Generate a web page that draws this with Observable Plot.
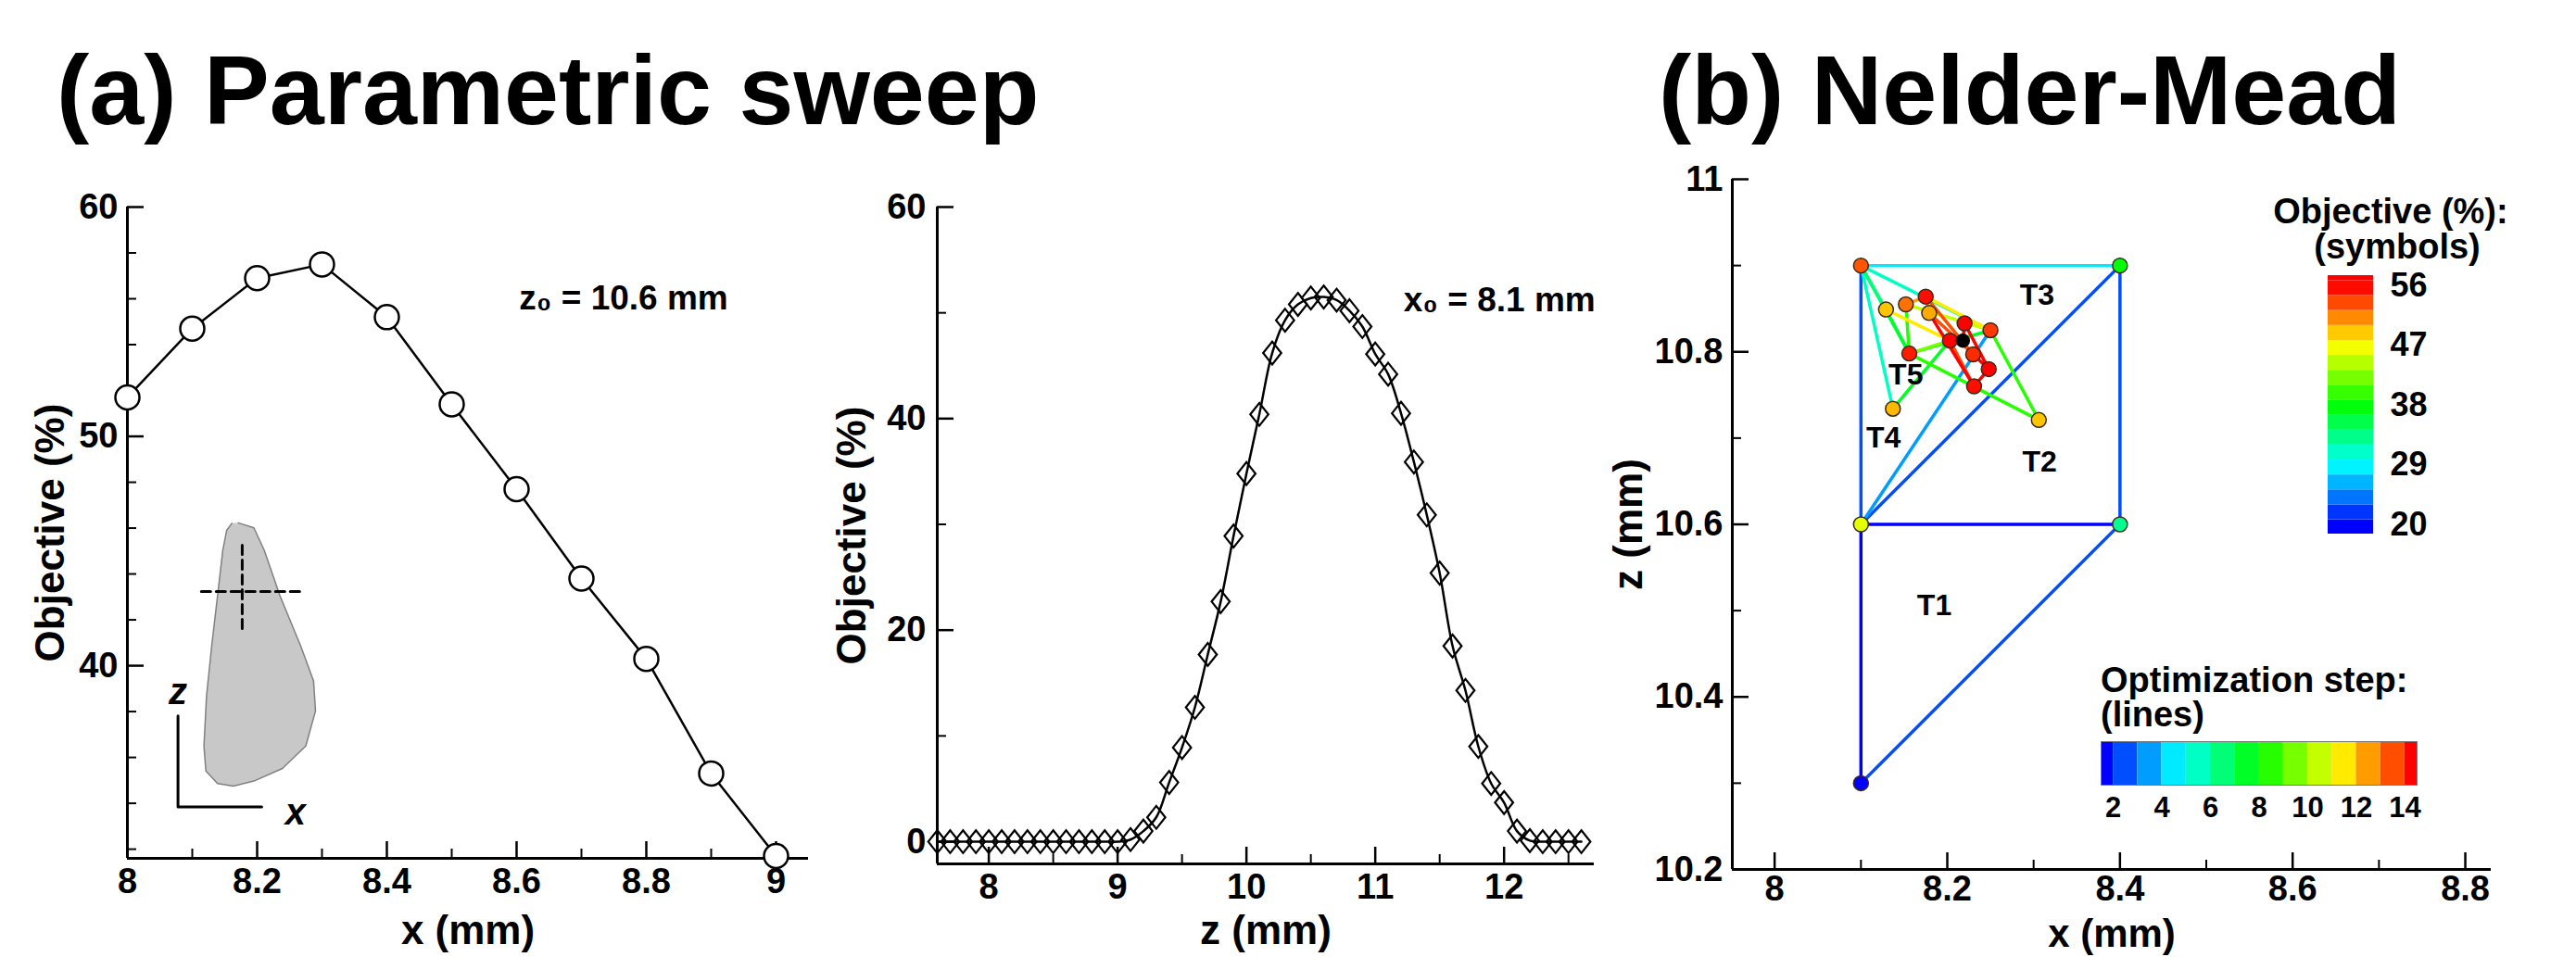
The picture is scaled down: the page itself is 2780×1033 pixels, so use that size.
<!DOCTYPE html>
<html><head><meta charset="utf-8">
<script src="https://cdn.jsdelivr.net/npm/d3@7"></script>
<script src="https://cdn.jsdelivr.net/npm/@observablehq/plot@0.6"></script>
<style>
html,body{margin:0;padding:0;background:#fff;}
#root{position:relative;width:2780px;height:1033px;overflow:hidden;background:#fff;font-family:"Liberation Sans",Arial,Helvetica,sans-serif;}
.abs{position:absolute;}
.abs svg{max-width:none;}
</style></head><body><div id="root"></div>
<script>
// ---------------- DATA ----------------
// (a) left: sweep in x at z0 = 10.6 mm
const sweepX = [8.0, 8.1, 8.2, 8.3, 8.4, 8.5, 8.6, 8.7, 8.8, 8.9, 9.0];
const sweepXObjective = [51.7, 54.7, 56.9, 57.5, 55.2, 51.4, 47.7, 43.8, 40.3, 35.3, 31.7];
// (a) right: sweep in z at x0 = 8.1 mm
const sweepZ = [7.6, 7.7, 7.8, 7.9, 8.0, 8.1, 8.2, 8.3, 8.4, 8.5, 8.6, 8.7, 8.8, 8.9, 9.0,
  9.1, 9.2, 9.3, 9.4, 9.5, 9.6, 9.7, 9.8, 9.9, 10.0, 10.1, 10.2, 10.3, 10.4, 10.5, 10.6, 10.7, 10.8, 10.9,
  11.0, 11.1, 11.2, 11.3, 11.4, 11.5, 11.6, 11.7, 11.8, 11.9, 12.0, 12.1, 12.2, 12.3, 12.4, 12.5, 12.6];
const sweepZObjective = [0, 0, 0, 0, 0, 0, 0, 0, 0, 0, 0, 0, 0, 0, 0,
  0.2, 1.0, 2.3, 5.6, 8.9, 12.7, 17.7, 22.7, 28.9, 34.8, 40.4, 46.2, 49.3, 50.8, 51.4, 51.5, 51.2, 50.2, 48.7,
  46.1, 44.2, 40.5, 35.9, 30.9, 25.4, 18.5, 14.3, 9.0, 5.5, 3.7, 1.0, 0.1, 0, 0, 0, 0];

// inset sketch (in left-panel data coordinates)
const insetOutlineX = [8.171, 8.195, 8.211, 8.235, 8.267, 8.287, 8.290, 8.275, 8.239, 8.195, 8.163, 8.139, 8.121, 8.118, 8.122, 8.130, 8.139, 8.147, 8.153, 8.161];
const insetOutlineY = [46.23, 46.01, 45.03, 43.06, 40.87, 39.34, 38.03, 36.50, 35.52, 34.97, 34.75, 34.86, 35.41, 36.50, 38.69, 40.87, 43.06, 45.03, 45.90, 46.21];
const insetCrossVX = [8.177, 8.177], insetCrossVY = [45.25, 41.53];
const insetCrossHX = [8.114, 8.267], insetCrossHY = [43.23, 43.23];
const insetAxesX = [8.078, 8.078, 8.207], insetAxesY = [37.81, 33.84, 33.84];
const insetAxisLabels = ["z", "x"], insetAxisLabelX = [8.078, 8.259], insetAxisLabelY = [38.85, 33.6];

// (b) Nelder-Mead
const nmName = ["A", "B", "C", "D", "E", "F", "G", "H", "I", "J", "K", "L", "M", "N", "P", "Q", "R", "S"];
const nmX = [8.1, 8.1, 8.4, 8.4, 8.1, 8.250, 8.129, 8.137, 8.156, 8.203, 8.152, 8.175, 8.306, 8.179, 8.220, 8.230, 8.248, 8.231];
const nmZ = [10.3, 10.6, 10.6, 10.9, 10.9, 10.825, 10.849, 10.734, 10.798, 10.813, 10.855, 10.864, 10.721, 10.845, 10.833, 10.797, 10.780, 10.760];
const nmObjective = [20, 46, 33, 38, 53, 54, 49, 49.5, 55, 56, 52, 55.5, 49, 50, 56, 54.5, 56, 55.5];
const optimumName = ["O"], optimumX = [8.218], optimumZ = [10.813];
const edgeFrom = ["A","B","A","C","B","B","B","D","E","E","E","E","G","H","I","I","F","K","I","K","G","L","K","L","N","J","L","N","P","Q","S","P","J"];
const edgeTo   = ["B","C","C","D","D","E","F","E","F","H","G","I","I","J","F","M","M","I","J","F","J","F","L","N","Q","S","Q","S","R","R","R","O","O"];
const edgeStep = [1, 1, 2, 2, 2, 2, 3, 4, 5, 5, 6, 6, 7, 7, 7, 8, 8, 8, 9, 10, 11, 11, 12, 12, 13, 13, 13, 14, 14, 14, 14, 14, 14];
const triLabels = ["T1", "T2", "T3", "T4", "T5"];
const triLabelX = [8.185, 8.307, 8.304, 8.126, 8.152];
const triLabelZ = [10.506, 10.672, 10.866, 10.700, 10.773];

// legends
const objectiveLegendTicks = [20, 29, 38, 47, 56];
const objectiveLegendEdges = [18.6, 20.75, 23, 25.25, 27.5, 29.75, 32, 34.25, 36.5, 38.75, 41, 43.25, 45.5, 47.75, 50, 52.25, 54.5, 56.75, 57.5];
const stepLegendSteps = [1, 2, 3, 4, 5, 6, 7, 8, 9, 10, 11, 12, 13, 14];
const stepLegendTicks = [2, 4, 6, 8, 10, 12, 14];

// axis ticks
const p1XMajor = [8, 8.2, 8.4, 8.6, 8.8, 9], p1XMinor = [8.1, 8.3, 8.5, 8.7, 8.9];
const p1YMajor = [40, 50, 60], p1YMinor = [32, 34, 36, 38, 42, 44, 46, 48, 52, 54, 56, 58];
const p2XMajor = [8, 9, 10, 11, 12], p2XMinor = [8.5, 9.5, 10.5, 11.5, 12.5];
const p2YMajor = [0, 20, 40, 60], p2YMinor = [10, 30, 50];
const p3XMajor = [8, 8.2, 8.4, 8.6, 8.8], p3XMinor = [8.1, 8.3, 8.5, 8.7];
const p3YMajor = [10.2, 10.4, 10.6, 10.8, 11], p3YMinor = [10.3, 10.5, 10.7, 10.9];

// ---------------- HELPERS ----------------
const FONT = '"Liberation Sans", Arial, Helvetica, sans-serif';
const RAINBOW = ["#0000ff", "#00ffff", "#00ff00", "#ffff00", "#ff0000"];
const root = document.getElementById("root");
const fmt = d3.format("~g");
function place(node, left, top) {
  const d = document.createElement("div");
  d.className = "abs"; d.style.left = left + "px"; d.style.top = top + "px";
  d.appendChild(node); root.appendChild(d);
}
const baseStyle = {fontFamily: FONT, fontSize: "38px", fontWeight: "bold", background: "transparent", overflow: "visible", color: "#000"};
function inwardTicks(xMaj, xMin, yMaj, yMin, pw, ph) {
  return [
    Plot.tickX(xMaj, {x: d => d, insetTop: ph - 18, stroke: "#000", strokeWidth: 2.5}),
    Plot.tickX(xMin, {x: d => d, insetTop: ph - 10, stroke: "#000", strokeWidth: 2}),
    Plot.tickY(yMaj, {y: d => d, insetRight: pw - 18, stroke: "#000", strokeWidth: 2.5}),
    Plot.tickY(yMin, {y: d => d, insetRight: pw - 10, stroke: "#000", strokeWidth: 2})
  ];
}
function yTitle(t, dx) {
  return Plot.text([t], {frameAnchor: "left", dx, rotate: -90, text: d => d, textAnchor: "middle", lineAnchor: "middle", fontSize: 44, fontWeight: "bold"});
}
function xTitle(t, dy, size = 44) {
  return Plot.text([t], {frameAnchor: "bottom", dy, text: d => d, textAnchor: "middle", lineAnchor: "middle", fontSize: size, fontWeight: "bold"});
}
const zip = (a, b, ka, kb) => a.map((v, i) => ({[ka]: v, [kb]: b[i]}));

// ---------------- PANEL 1 ----------------
{
  const W = 900, H = 1033, mL = 137, mT = 223, mR = 28, mB = 107;
  const pw = W - mL - mR, ph = H - mT - mB;
  const xDom = [8, 9.05], yDom = [31.6, 60];
  const data = zip(sweepX, sweepXObjective, "x", "obj");
  const outline = zip(insetOutlineX, insetOutlineY, "x", "y");
  const chart = Plot.plot({
    width: W, height: H, marginLeft: mL, marginTop: mT, marginRight: mR, marginBottom: mB,
    style: baseStyle,
    x: {domain: xDom, ticks: p1XMajor, tickSize: 0, tickPadding: 11, tickFormat: fmt, label: null},
    y: {domain: yDom, ticks: p1YMajor, tickSize: 0, tickPadding: 10, tickFormat: fmt, label: null},
    marks: [
      Plot.line(outline, {x: "x", y: "y", fill: "#c8c8c8", stroke: "#808080", strokeWidth: 1.5}),
      Plot.line(zip(insetCrossVX, insetCrossVY, "x", "y"), {x: "x", y: "y", stroke: "#000", strokeWidth: 3, strokeDasharray: "10,6"}),
      Plot.line(zip(insetCrossHX, insetCrossHY, "x", "y"), {x: "x", y: "y", stroke: "#000", strokeWidth: 3, strokeDasharray: "10,6"}),
      Plot.line(zip(insetAxesX, insetAxesY, "x", "y"), {x: "x", y: "y", stroke: "#000", strokeWidth: 3}),
      Plot.text(insetAxisLabels, {x: (d, i) => insetAxisLabelX[i], y: (d, i) => insetAxisLabelY[i], text: d => d, fontSize: 40, fontStyle: "italic", fontWeight: "bold"}),
      Plot.ruleX([xDom[0]], {stroke: "#000", strokeWidth: 3}),
      Plot.ruleY([yDom[0]], {stroke: "#000", strokeWidth: 3}),
      ...inwardTicks(p1XMajor, p1XMinor, p1YMajor, p1YMinor, pw, ph),
      Plot.line(data, {x: "x", y: "obj", stroke: "#000", strokeWidth: 2.5}),
      Plot.dot(data, {x: "x", y: "obj", r: 13, fill: "#fff", stroke: "#000", strokeWidth: 2.5}),
      Plot.text(["z\u2080 = 10.6 mm"], {x: 8.604, y: 56.0, text: d => d, textAnchor: "start", fontSize: 37, fontWeight: "bold"}),
      yTitle("Objective (%)", -83),
      xTitle("x (mm)", 78)
    ]
  });
  place(chart, 0, 0);
}

// ---------------- PANEL 2 ----------------
{
  const W = 860, H = 1033, mL = 131, mT = 223, mR = 20, mB = 101;
  const pw = W - mL - mR, ph = H - mT - mB;
  const xDom = [7.6, 12.7], yDom = [-2.1, 60];
  const data = zip(sweepZ, sweepZObjective, "z", "obj");
  const diamond = {draw(ctx, size) { const s = Math.sqrt(size / Math.PI), h = 1.45 * s, w = 1.15 * s;
    ctx.moveTo(0, -h); ctx.lineTo(w, 0); ctx.lineTo(0, h); ctx.lineTo(-w, 0); ctx.closePath(); }};
  const chart = Plot.plot({
    width: W, height: H, marginLeft: mL, marginTop: mT, marginRight: mR, marginBottom: mB,
    style: baseStyle,
    x: {domain: xDom, ticks: p2XMajor, tickSize: 0, tickPadding: 11, tickFormat: fmt, label: null},
    y: {domain: yDom, ticks: p2YMajor, tickSize: 0, tickPadding: 12, tickFormat: fmt, label: null},
    marks: [
      Plot.ruleX([xDom[0]], {stroke: "#000", strokeWidth: 3}),
      Plot.ruleY([yDom[0]], {stroke: "#000", strokeWidth: 3}),
      ...inwardTicks(p2XMajor, p2XMinor, p2YMajor, p2YMinor, pw, ph),
      Plot.line(data, {x: "z", y: "obj", stroke: "#000", strokeWidth: 2.5, curve: "catmull-rom"}),
      Plot.dot(data, {x: "z", y: "obj", r: 8.5, symbol: diamond, fill: "none", stroke: "#000", strokeWidth: 2.2}),
      Plot.text(["x\u2080 = 8.1 mm"], {x: 11.22, y: 51.2, text: d => d, textAnchor: "start", fontSize: 37, fontWeight: "bold"}),
      yTitle("Objective (%)", -92),
      xTitle("z (mm)", 72)
    ]
  });
  place(chart, 880, 0);
}

// ---------------- PANEL 3 ----------------
{
  const W = 1040, H = 1033, mL = 129, mT = 193, mR = 92, mB = 95;
  const pw = W - mL - mR, ph = H - mT - mB;
  const xDom = [7.951, 8.83], yDom = [10.2, 11];
  const lookup = {};
  nmName.forEach((n, i) => lookup[n] = {x: nmX[i], z: nmZ[i]});
  optimumName.forEach((n, i) => lookup[n] = {x: optimumX[i], z: optimumZ[i]});
  const edges = edgeFrom.map((f, i) => ({x1: lookup[f].x, z1: lookup[f].z, x2: lookup[edgeTo[i]].x, z2: lookup[edgeTo[i]].z, step: edgeStep[i]}));
  const pts = nmName.map((n, i) => ({x: nmX[i], z: nmZ[i], obj: nmObjective[i]}));
  const labels = triLabels.map((t, i) => ({t, x: triLabelX[i], z: triLabelZ[i]}));
  const common = {width: W, height: H, marginLeft: mL, marginTop: mT, marginRight: mR, marginBottom: mB, style: baseStyle};
  const base = Plot.plot({
    ...common,
    x: {domain: xDom, ticks: p3XMajor, tickSize: 0, tickPadding: 7, tickFormat: fmt, label: null},
    y: {domain: yDom, ticks: p3YMajor, tickSize: 0, tickPadding: 10, tickFormat: fmt, label: null},
    color: {type: "linear", domain: [1, 4.25, 7.5, 10.75, 14], range: RAINBOW, clamp: true},
    marks: [
      Plot.ruleX([xDom[0]], {stroke: "#000", strokeWidth: 3}),
      Plot.ruleY([yDom[0]], {stroke: "#000", strokeWidth: 3}),
      ...inwardTicks(p3XMajor, p3XMinor, p3YMajor, p3YMinor, pw, ph),
      Plot.link(edges, {x1: "x1", y1: "z1", x2: "x2", y2: "z2", stroke: "step", strokeWidth: 3.5}),
      Plot.text(labels, {x: "x", y: "z", text: "t", fontSize: 32, fontWeight: "bold"}),
      yTitle("z (mm)", -112),
      xTitle("x (mm)", 70, 42)
    ]
  });
  place(base, 1740, 0);
  const over = Plot.plot({
    ...common,
    x: {domain: xDom, axis: null},
    y: {domain: yDom, axis: null},
    color: {type: "linear", domain: [20, 29, 38, 47, 56], range: RAINBOW, clamp: true},
    marks: [
      Plot.dot(pts, {x: "x", y: "z", r: 8, fill: "obj", stroke: "#3a2a1a", strokeWidth: 1.5}),
      Plot.dot(optimumName, {x: (d, i) => optimumX[i], y: (d, i) => optimumZ[i], r: 7, fill: "#000", stroke: "#000"})
    ]
  });
  place(over, 1740, 0);
}

// ---------------- LEGEND: Objective (symbols) ----------------
{
  const W = 200, H = 310, mL = 22, mT = 17, mR = 129, mB = 14;
  const bands = objectiveLegendEdges.slice(0, -1).map((lo, i) => ({lo, hi: objectiveLegendEdges[i + 1], mid: (lo + objectiveLegendEdges[i + 1]) / 2}));
  const leg = Plot.plot({
    width: W, height: H, marginLeft: mL, marginTop: mT, marginRight: mR, marginBottom: mB,
    style: {...baseStyle, fontSize: "36px"},
    x: {domain: [0, 1], axis: null},
    y: {domain: [objectiveLegendEdges[0], objectiveLegendEdges[objectiveLegendEdges.length - 1]], axis: "right", ticks: objectiveLegendTicks, tickSize: 0, tickPadding: 18, tickFormat: fmt, label: null},
    color: {type: "linear", domain: [20, 29, 38, 47, 56], range: RAINBOW, clamp: true},
    marks: [
      Plot.rect(bands, {x1: 0, x2: 1, y1: "lo", y2: "hi", fill: "mid"})
    ]
  });
  place(leg, 2490, 280);
}

// ---------------- LEGEND: Optimization step (lines) ----------------
{
  const W = 400, H = 120, mL = 17, mT = 10, mR = 42, mB = 63;
  const bands = stepLegendSteps.map(s => ({s, x1: Math.max(1.5, s), x2: Math.min(14.5, s + 1)}));
  const leg = Plot.plot({
    width: W, height: H, marginLeft: mL, marginTop: mT, marginRight: mR, marginBottom: mB,
    style: {...baseStyle, fontSize: "31px"},
    x: {domain: [1.5, 14.5], ticks: stepLegendTicks, tickSize: 0, tickPadding: 12, tickFormat: fmt, label: null},
    y: {domain: [0, 1], axis: null},
    color: {type: "linear", domain: [1, 4.25, 7.5, 10.75, 14], range: RAINBOW, clamp: true},
    marks: [
      Plot.rect(bands, {x1: "x1", x2: "x2", y1: 0, y2: 1, fill: "s"}),
      Plot.frame({stroke: "#777", strokeWidth: 1})
    ]
  });
  place(leg, 2250, 790);
}

// ---------------- TITLES / LEGEND TITLES ----------------
{
  const svg = d3.create("svg").attr("width", 2780).attr("height", 1033)
    .style("position", "absolute").style("left", "0px").style("top", "0px").style("pointer-events", "none")
    .attr("font-family", FONT).attr("font-weight", "bold");
  const texts = [
    {t: "(a) Parametric sweep", x: 61, y: 134, size: 106, anchor: "start"},
    {t: "(b) Nelder-Mead", x: 1790, y: 134, size: 106, anchor: "start"},
    {t: "Objective (%):", x: 2580, y: 241, size: 38, anchor: "middle"},
    {t: "(symbols)", x: 2587, y: 279, size: 38, anchor: "middle"},
    {t: "Optimization step:", x: 2267, y: 747, size: 38, anchor: "start"},
    {t: "(lines)", x: 2267, y: 784, size: 38, anchor: "start"}
  ];
  svg.selectAll("text").data(texts).join("text")
    .attr("x", d => d.x).attr("y", d => d.y).attr("font-size", d => d.size)
    .attr("text-anchor", d => d.anchor).text(d => d.t);
  root.appendChild(svg.node());
}
</script>
</body></html>
